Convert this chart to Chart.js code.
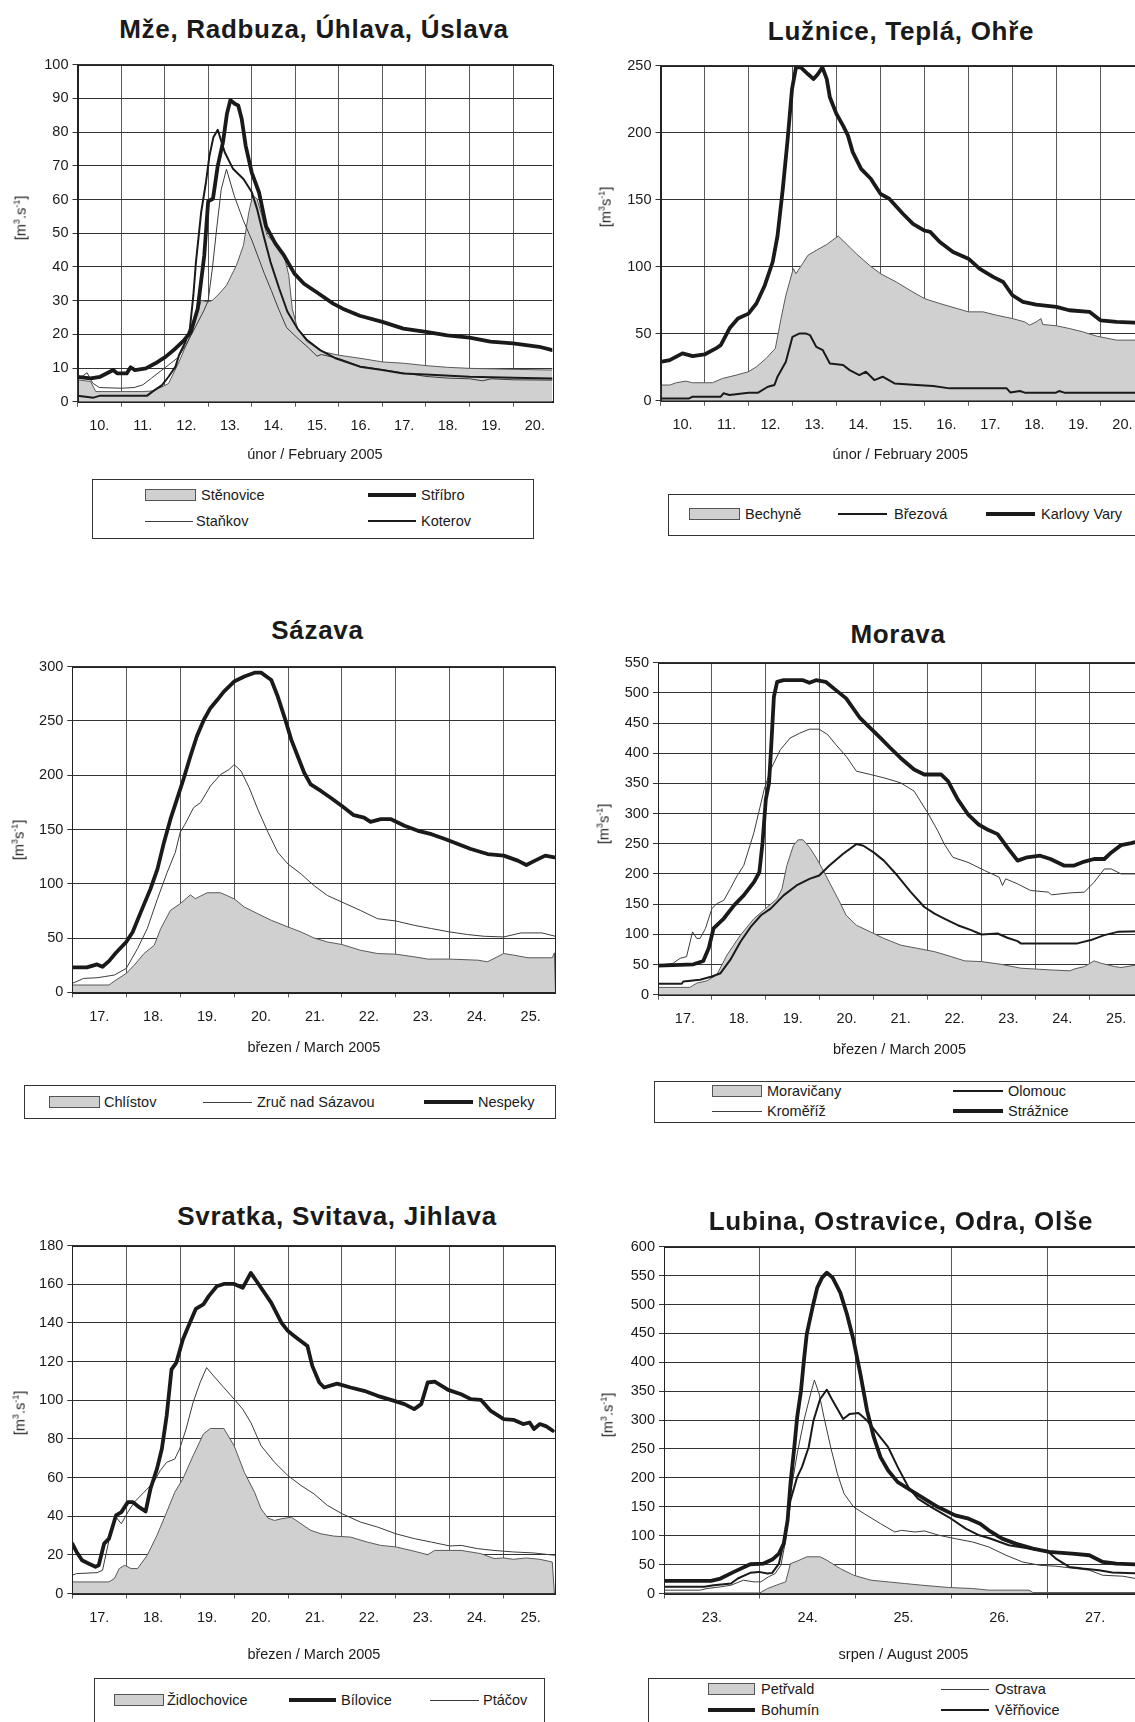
<!DOCTYPE html>
<html>
<head>
<meta charset="utf-8">
<script src="https://cdn.jsdelivr.net/npm/chart.js@4.4.1/dist/chart.umd.min.js"></script>
<style>
  html, body { margin: 0; padding: 0; overflow: hidden; background: #fff; }
  body { position: relative; width: 1135px; height: 1722px; font-family: "Liberation Sans", Arial, sans-serif; color: #1a1a1a; }
  canvas { position: absolute; }
  .title { position: absolute; font-weight: bold; font-size: 26px; letter-spacing: 0.7px; white-space: nowrap; transform: translate(-50%, -50%); }
  .ytitle { position: absolute; font-size: 14.5px; white-space: nowrap; transform: translate(-50%, -50%) rotate(-90deg); }
  .ytitle sup { font-size: 9px; }
  .legend { position: absolute; border: 1px solid #333; box-sizing: border-box; }
  .ltext { position: absolute; font-size: 14.5px; white-space: nowrap; transform: translateY(-50%); }
  .lline { position: absolute; }
  .lbox { position: absolute; background: #d0d0d0; border: 1px solid #555; box-sizing: border-box; }
</style>
</head>
<body>
<script>
/* ---------- DATA (day of month, discharge m3/s) ---------- */
const febDays = [10, 11, 12, 13, 14, 15, 16, 17, 18, 19, 20];
const marDays = [17, 18, 19, 20, 21, 22, 23, 24, 25];
const augDays = [23, 24, 25, 26, 27];

// Mže, Radbuza, Úhlava, Úslava
const stenovice = [[10.0,6.5],[10.3,6],[10.42,3],[11.0,3],[11.5,3],[11.72,3.2],[11.94,4.4],[12.09,5.4],[12.33,11.8],[12.56,18.8],[12.72,24.7],[12.84,30.1],[12.92,29.8],[13.0,29.6],[13.1,30.1],[13.25,32],[13.42,34.5],[13.65,40.5],[13.81,46.4],[13.93,56],[14.02,61.2],[14.12,60.2],[14.23,55.3],[14.35,49.4],[14.5,47.4],[14.74,43.4],[14.85,37.5],[14.93,27.6],[15.05,21.7],[15.27,17.8],[15.64,14.8],[16.0,13.8],[16.53,12.8],[17.0,11.8],[17.5,11.4],[18.0,10.7],[18.49,10.2],[19.0,9.9],[20.0,9.6],[20.9,9.4]];
const stribro = [[10.0,7.4],[10.3,6.9],[10.52,7.4],[10.82,9.4],[10.91,8.4],[11.13,8.4],[11.22,10.2],[11.32,9.4],[11.57,9.9],[11.79,11.4],[12.02,13.3],[12.25,15.8],[12.45,18.3],[12.6,20.7],[12.76,27.6],[12.91,43.4],[13.0,59.5],[13.11,60.2],[13.22,70],[13.34,77],[13.43,85.4],[13.51,89.5],[13.61,88.4],[13.69,87.9],[13.77,83.9],[13.86,76],[14.0,68],[14.17,62],[14.33,52],[14.54,47],[14.74,43.4],[14.98,38],[15.2,35],[15.5,32.4],[15.87,29.1],[16.09,27.6],[16.48,25.5],[17.0,23.7],[17.48,21.7],[18.0,20.7],[18.49,19.7],[19.0,19],[19.48,17.8],[20.0,17.3],[20.6,16.3],[20.9,15.3]];
const stankov = [[10.0,6.5],[10.22,8.6],[10.35,5.5],[10.5,4.2],[11.0,4.0],[11.3,4.2],[11.5,5],[11.7,7],[11.9,9],[12.1,11],[12.3,13],[12.5,17],[12.7,22],[12.9,27],[13.0,30],[13.1,40],[13.2,52],[13.3,63],[13.42,69],[13.6,61],[13.8,54],[14.0,48],[14.29,38],[14.45,33],[14.62,27.4],[14.8,22],[15.04,19],[15.3,16],[15.5,13.5],[15.6,14],[16.0,12.8],[16.5,10.5],[17.0,9.5],[17.5,8.5],[18.0,7.5],[18.5,7.0],[19.0,6.8],[19.3,6.2],[19.5,6.8],[20.0,6.5],[20.9,6.4]];
const koterov = [[10.0,1.8],[10.37,1.2],[10.52,1.8],[11.6,1.8],[11.72,3],[11.94,4.9],[12.09,7.4],[12.25,10.4],[12.33,13.8],[12.48,17.8],[12.58,21.7],[12.66,31.6],[12.72,41.5],[12.84,56.3],[12.95,65.2],[13.03,73],[13.12,78.5],[13.22,80.7],[13.38,74],[13.57,69.1],[13.81,66.1],[14.0,62.2],[14.12,57.3],[14.27,49.4],[14.43,41.5],[14.63,33.6],[14.82,26.7],[15.05,21.7],[15.27,18.3],[15.57,15.3],[15.94,12.8],[16.48,10.4],[17.0,9.4],[17.48,8.4],[18.0,8.1],[19.0,7.4],[20.0,7.1],[20.9,6.9]];

// Lužnice, Teplá, Ohře
const bechyne = [[10.0,11.7],[10.21,11.7],[10.36,13.4],[10.58,14.6],[10.73,13.4],[11.0,13.4],[11.18,13.4],[11.41,16.6],[11.72,19.1],[12.0,21.6],[12.18,25.3],[12.4,31.5],[12.61,39],[12.74,61.3],[12.85,78.7],[13.02,98.6],[13.08,94.8],[13.23,102.3],[13.35,108.5],[13.54,112.2],[13.77,116.4],[14.04,122.9],[14.22,117.2],[14.45,109.7],[14.75,101],[15.0,94.8],[15.36,88.6],[15.67,82.4],[16.0,76.2],[16.35,72.5],[17.0,66.3],[17.33,66.3],[17.64,63.8],[18.0,61.3],[18.28,58.8],[18.39,56.4],[18.54,58.8],[18.65,61.3],[18.69,56.9],[19.0,55.9],[19.29,53.9],[19.6,51.4],[19.91,48.2],[20.37,45.2],[20.95,45.2]];
const brezova = [[10.0,1.7],[10.65,1.7],[10.73,3],[11.37,3],[11.43,5.5],[11.57,4.2],[12.0,6],[12.22,6],[12.44,10.4],[12.59,11.7],[12.66,17.9],[12.85,29],[13.0,47.7],[13.15,50.1],[13.31,50.1],[13.4,48.9],[13.54,40.2],[13.69,37.7],[13.85,27.8],[14.15,26.6],[14.3,22.8],[14.52,19.1],[14.67,21.6],[14.86,15.4],[15.05,17.9],[15.32,12.9],[15.82,11.7],[16.2,10.9],[16.57,9.2],[17.87,9.2],[17.95,6.2],[18.17,7.2],[18.28,6],[18.99,6],[19.06,7.2],[19.18,6],[20.95,6]];
const karlovyVary = [[10.0,29],[10.21,30.3],[10.5,35.3],[10.73,33.3],[11.0,34.5],[11.26,39],[11.37,41.5],[11.57,54],[11.76,61.3],[12.0,65],[12.18,72.5],[12.37,86],[12.55,103.5],[12.66,123],[12.78,158],[12.89,195],[12.99,232.6],[13.08,248.8],[13.19,248.8],[13.35,243.8],[13.48,240],[13.58,243.8],[13.68,248.8],[13.78,240],[13.85,226.4],[14.0,214],[14.15,205.3],[14.26,198],[14.37,185.5],[14.56,173],[14.78,165.6],[15.0,154.4],[15.2,150.7],[15.51,139.5],[15.74,132],[16.0,127],[16.13,126],[16.35,118.4],[16.65,111],[17.0,106],[17.25,98.6],[17.56,92.4],[17.79,88.6],[18.0,78.7],[18.24,73.7],[18.54,71.7],[19.0,70],[19.29,67.5],[19.75,66.3],[20.0,60],[20.37,58.8],[20.95,58]];

// Sázava
const chlistov = [[17,6.7],[17.68,6.7],[17.81,11.3],[18,17.4],[18.15,25.1],[18.33,35.7],[18.52,43.4],[18.64,58.7],[18.82,75.5],[19.0,81.6],[19.19,89.8],[19.28,86.2],[19.34,87.7],[19.5,91.7],[19.75,91.7],[20.0,86.2],[20.19,78.5],[20.44,72.4],[20.69,66.3],[21.0,60.2],[21.24,55.6],[21.48,50.1],[21.73,46.4],[22.0,44],[22.34,38.8],[22.66,35.7],[23.0,35.1],[23.34,32.7],[23.59,30.6],[24.0,30.6],[24.52,29.6],[24.7,28.1],[24.88,32.7],[25.0,35.7],[25.19,34.2],[25.45,31.8],[25.9,31.8],[25.94,36.4],[25.96,0]];
const zruc = [[17,8.2],[17.21,12.8],[17.46,13.4],[17.59,14.4],[17.78,15.9],[18,22],[18.21,40.3],[18.39,58.7],[18.58,86.2],[18.76,110.6],[18.91,128.9],[19.0,147.3],[19.09,154.9],[19.25,170.2],[19.38,174.8],[19.56,190],[19.75,200.7],[19.91,205.3],[20,209.9],[20.13,203.8],[20.28,188.5],[20.44,168.6],[20.63,147.3],[20.81,128.9],[21.0,118.2],[21.24,109.1],[21.48,98.4],[21.73,89.2],[22.0,83.1],[22.34,75.5],[22.66,67.8],[23.0,65.7],[23.34,61.7],[23.66,58.7],[24.0,55.6],[24.33,53.2],[24.64,51.6],[25.0,51],[25.32,54.7],[25.71,54.7],[25.96,51.6]];
const nespeky = [[17.0,22.9],[17.27,22.9],[17.46,25.7],[17.56,23.5],[17.68,28.7],[17.81,36.4],[18.0,46.4],[18.12,55.6],[18.27,73.9],[18.45,95.3],[18.58,113.7],[18.7,138.1],[18.82,159.5],[18.94,177.8],[19.06,196.1],[19.19,217.5],[19.31,235.9],[19.44,251.1],[19.56,261.8],[19.69,269.5],[19.81,277.1],[20.0,286.3],[20.19,290.9],[20.38,294.5],[20.5,294.5],[20.69,287.8],[20.81,272.5],[20.94,252.7],[21.06,232.8],[21.18,217.5],[21.3,202.3],[21.42,191.6],[21.61,185.5],[21.79,179.3],[22.0,171.7],[22.22,163.2],[22.41,161],[22.53,157],[22.72,159.5],[22.91,159.5],[23.16,153.4],[23.41,148.8],[23.66,145.7],[23.91,141.2],[24.15,136.6],[24.39,132],[24.7,127.4],[25.0,125.9],[25.26,121.3],[25.42,117.3],[25.58,121.3],[25.77,125.9],[25.94,124.4]];

// Morava
const moravicany = [[17,12.1],[17.59,12.1],[17.72,19.2],[17.91,23],[18.09,32.9],[18.28,65.8],[18.53,98.7],[18.78,126.1],[19.03,145.3],[19.21,159],[19.3,175.5],[19.39,213.9],[19.51,246.8],[19.6,256.6],[19.69,256.6],[19.81,244.1],[19.93,227.6],[20.05,208.4],[20.21,181],[20.37,153.6],[20.49,131.6],[20.68,115.1],[20.94,104.1],[21.19,93.2],[21.5,82.2],[21.81,76.8],[22.13,71.3],[22.44,63.1],[22.69,56],[23,54.8],[23.36,50.4],[23.73,43.9],[24.27,41.1],[24.64,39.5],[24.73,42.8],[24.91,46.6],[25.09,56],[25.22,52.1],[25.47,46.6],[25.59,45],[25.95,50.4]];
const kromeriz = [[17,48.3],[17.28,52],[17.41,60.3],[17.53,63],[17.64,104.1],[17.72,93.2],[17.78,93.2],[17.88,109.7],[18,142.6],[18.09,150.8],[18.22,156.3],[18.34,175.5],[18.47,197.4],[18.59,213.9],[18.78,268.7],[18.97,340],[19.09,373],[19.27,405.9],[19.45,425.1],[19.63,433.3],[19.81,439.9],[19.99,439.9],[20.15,430.6],[20.3,414.2],[20.49,395],[20.68,370.3],[20.94,364.8],[21.19,359.3],[21.5,351],[21.75,337.3],[22,301.7],[22.19,271.5],[22.31,249.5],[22.47,227.6],[22.75,219.3],[23.06,205.6],[23.33,194.6],[23.39,180.9],[23.45,191.9],[23.67,183.6],[23.91,172.7],[24.24,169.9],[24.3,165.5],[24.66,168.8],[24.91,169.9],[25.09,186.4],[25.28,208.3],[25.41,208.3],[25.59,200.1],[25.95,200.1]];
const olomouc = [[17,18.1],[17.44,18.1],[17.47,21.9],[17.78,24.7],[18,30.2],[18.16,35.6],[18.34,57.6],[18.53,87.7],[18.72,112.4],[18.91,131.6],[19.09,142.6],[19.33,164.5],[19.57,181],[19.81,191.9],[19.99,197.4],[20.18,213.9],[20.43,233.1],[20.68,249.5],[20.81,246.8],[21,235.8],[21.19,222.1],[21.44,197.4],[21.69,170],[21.94,145.3],[22.13,134.3],[22.31,126.1],[22.56,115.1],[22.81,106.9],[23,99.8],[23.3,101.4],[23.48,94.3],[23.67,88.8],[23.73,85],[23.97,85],[24.78,85],[25.03,90.5],[25.28,98.7],[25.53,104.1],[25.95,105.3]];
const straznice = [[17,48.3],[17.41,49.4],[17.66,50.4],[17.84,55.9],[17.94,76.8],[18.03,109.7],[18.22,126.2],[18.41,148.1],[18.59,164.5],[18.78,186.5],[18.88,202.9],[18.94,252.3],[19.0,323.6],[19.06,351],[19.1,411.3],[19.15,493.6],[19.21,518.3],[19.33,521],[19.69,521],[19.81,516.6],[19.93,521],[20.11,518.3],[20.3,504.6],[20.49,490.9],[20.75,458],[20.94,441.6],[21.13,425.1],[21.31,408.7],[21.5,392.2],[21.75,373],[21.94,364.8],[22.25,364.8],[22.38,353.7],[22.56,323.6],[22.75,298.9],[22.94,282.4],[23.12,273.1],[23.3,266],[23.48,244.1],[23.67,222.1],[23.85,227.6],[24.09,230.3],[24.28,224.8],[24.53,213.9],[24.72,213.9],[24.91,220.5],[25.09,224.8],[25.28,224.8],[25.41,235.7],[25.59,247.8],[25.78,251.1],[25.95,255]];

// Svratka, Svitava, Jihlava
const zidlochovice = [[17,6],[17.68,6],[17.78,7.7],[17.87,12.9],[17.97,14.6],[18.09,12.9],[18.21,12.9],[18.39,19.8],[18.57,30.1],[18.75,42.1],[18.9,52.4],[19.05,59.3],[19.24,71.3],[19.43,82.5],[19.56,85.4],[19.81,85.4],[20,76.5],[20.19,62.7],[20.38,52.4],[20.5,43.8],[20.63,39],[20.75,37.8],[20.88,38.7],[21.06,39.5],[21.24,36.1],[21.42,32.7],[21.61,30.9],[21.85,29.7],[22.16,29.2],[22.47,26.6],[22.72,24.9],[23,24.1],[23.28,22.3],[23.59,20.1],[23.72,22.3],[24.21,22.3],[24.58,20.6],[24.82,18.1],[25,18.4],[25.18,17.7],[25.42,18.4],[25.67,17.7],[25.9,16.3],[25.94,0]];
const bilovice = [[17,25.8],[17.08,21.5],[17.18,17.2],[17.3,15.5],[17.43,13.8],[17.49,14.6],[17.59,25.8],[17.68,28.4],[17.81,40.4],[17.91,42.1],[18.03,47.3],[18.12,47.3],[18.24,44.7],[18.36,42.5],[18.45,54.2],[18.57,64.5],[18.66,74.8],[18.75,92],[18.84,116],[18.93,119.5],[19.05,131.5],[19.18,140.1],[19.29,147.3],[19.43,149.6],[19.53,153.9],[19.68,159],[19.81,160.2],[20,160.2],[20.16,158.2],[20.31,165.9],[20.44,160.7],[20.69,150.4],[20.88,140.1],[21,135.8],[21.12,133.2],[21.36,128.1],[21.45,117.8],[21.58,109.2],[21.67,106.6],[21.91,108.6],[22.16,106.6],[22.41,104.9],[22.66,102.3],[22.97,99.7],[23.16,98],[23.34,95.4],[23.47,98],[23.59,109.2],[23.72,109.7],[23.97,105.4],[24.21,103.1],[24.39,100.6],[24.58,100.2],[24.76,94.5],[25,90.3],[25.18,89.9],[25.36,87.7],[25.48,88.5],[25.56,85.1],[25.67,87.7],[25.79,86.5],[25.91,84.2]];
const ptacov = [[17,9.5],[17.08,10.3],[17.46,10.8],[17.56,12],[17.68,27.5],[17.81,39.5],[17.91,36.1],[18.03,42.1],[18.15,47.3],[18.33,52.4],[18.51,57.6],[18.63,63.6],[18.75,67.9],[18.9,69.6],[18.99,74.8],[19.11,85.1],[19.24,98.9],[19.37,109.2],[19.49,116.9],[19.62,112.6],[19.81,106.6],[20,100.6],[20.16,95.4],[20.31,88.5],[20.5,76.5],[20.75,67.9],[21,61],[21.24,55.9],[21.48,51.6],[21.73,45.6],[22,41.3],[22.34,37],[22.66,34.4],[23,30.9],[23.34,28.4],[23.66,26.6],[24,24.6],[24.21,24.9],[24.52,23.2],[24.82,22.3],[25.18,21.5],[25.55,21],[25.94,19.8]];

// Lubina, Ostravice, Odra, Olše
const petrvald = [[23,1],[24.0,1],[24.08,8.6],[24.22,17.3],[24.27,20],[24.32,51.8],[24.39,56],[24.49,63.5],[24.63,63.5],[24.7,57.5],[24.84,43.1],[24.98,31.6],[25.16,23],[25.34,20.1],[25.51,17.3],[25.69,14.4],[25.97,10.4],[26.22,8.6],[26.39,5.8],[26.81,5.8],[26.85,1.7],[27.98,1.7]];
const ostrava = [[23,5.8],[23.38,5.8],[23.45,8.6],[23.59,11.5],[23.7,14.4],[23.83,23],[23.94,20.1],[24.01,20.1],[24.09,28.8],[24.16,34.5],[24.22,48.9],[24.27,92],[24.32,172.6],[24.39,241.6],[24.46,299.1],[24.53,345.2],[24.57,369.3],[24.62,345.2],[24.67,304.9],[24.74,253.1],[24.81,207.1],[24.88,172.6],[24.98,149.6],[25.09,138.1],[25.26,120.8],[25.41,106.4],[25.48,109.3],[25.62,106.4],[25.72,108.2],[25.87,100.7],[26.04,94.9],[26.22,89.2],[26.39,80.5],[26.57,66.2],[26.74,54.7],[26.92,48.9],[27.09,47.2],[27.3,43.1],[27.44,40.3],[27.58,31.6],[27.79,29.9],[27.98,24.2]];
const bohumin = [[23,21.9],[23.49,21.9],[23.59,25.9],[23.73,37.4],[23.9,50.6],[24.04,51.8],[24.13,58.7],[24.2,69],[24.25,86.3],[24.29,126.6],[24.32,189.8],[24.36,253.1],[24.39,304.9],[24.43,350.9],[24.46,402.7],[24.49,448.7],[24.55,494.7],[24.6,529.3],[24.65,546.5],[24.7,555.1],[24.76,546.5],[24.84,520.6],[24.91,483.2],[24.98,437.2],[25.05,379.7],[25.12,316.4],[25.19,270.4],[25.26,235.9],[25.34,212.9],[25.44,192.7],[25.55,181.2],[25.69,166.8],[25.86,149.6],[26.04,135.2],[26.18,129.4],[26.3,120.8],[26.39,109.3],[26.53,94.9],[26.67,86.3],[26.85,77.7],[27.02,71.9],[27.12,70.8],[27.26,69],[27.44,66.2],[27.58,54.6],[27.72,51.8],[27.98,50]];
const verinovice = [[23,11.5],[23.42,11.5],[23.52,14.4],[23.7,17.3],[23.77,25.9],[23.9,35.7],[23.99,37.4],[24.08,34.5],[24.13,35.7],[24.2,51.8],[24.27,103.5],[24.32,161.1],[24.39,201.3],[24.44,218.6],[24.51,253.1],[24.56,299.1],[24.63,336.5],[24.7,352.6],[24.76,333.7],[24.87,302],[24.94,310.7],[25.03,312.4],[25.12,299.1],[25.23,276.1],[25.34,253.1],[25.44,218.6],[25.55,184.1],[25.65,164],[25.79,149.6],[25.97,132.3],[26.15,112.2],[26.29,100.7],[26.39,96.1],[26.6,83.4],[26.81,77.7],[27,73.6],[27.09,60.4],[27.23,46],[27.37,43.1],[27.54,40.3],[27.68,36.2],[27.98,34.5]];

/* ---------- STYLES ---------- */
const LINE = {
  thick: { w: 3.8, c: '#1a1a1a' },
  mid:   { w: 2,   c: '#1a1a1a' },
  thin:  { w: 1,   c: '#3c3c3c' },
};
const FONT = '"Liberation Sans", Arial, sans-serif';
Chart.defaults.font.family = FONT;
Chart.defaults.font.size = 14.5;
Chart.defaults.color = '#1a1a1a';

function line(data, kind, order) {
  return {
    data: data.map(p => ({ x: p[0], y: p[1] })),
    borderColor: LINE[kind].c, borderWidth: LINE[kind].w,
    pointRadius: 0, fill: false, tension: 0, order,
    borderJoinStyle: 'round', borderCapStyle: 'round'
  };
}
function area(data) {
  return {
    data: data.map(p => ({ x: p[0], y: p[1] })),
    borderColor: '#5a5a5a', borderWidth: 1, backgroundColor: '#d0d0d0',
    pointRadius: 0, fill: 'origin', tension: 0, order: 9
  };
}

// plot-area frame drawn over the series
const frame = {
  id: 'frame',
  afterDatasetsDraw(chart) {
    const { ctx, chartArea: a } = chart;
    ctx.save();
    ctx.strokeStyle = '#222';
    ctx.lineWidth = 1;
    ctx.strokeRect(Math.round(a.left) + 0.5, Math.round(a.top) + 0.5,
      Math.round(a.right - a.left), Math.round(a.bottom - a.top));
    ctx.restore();
  }
};

/* ---------- PANELS ---------- */
const panels = [
  { title: 'Mže, Radbuza, Úhlava, Úslava', tx: 314, ty: 29,
    L: 77.5, T: 64, R: 552.3, B: 401.7, xmin: 10, xmax: 20.9, ymax: 100, step: 10, days: febDays,
    xTitle: 'únor / February 2005', xOff: 53.5,
    yTitle: '[m<sup>3</sup>.s<sup>-1</sup>]', yx: 20, yy: 218,
    sets: [area(stenovice), line(stankov, 'thin', 3), line(koterov, 'mid', 2), line(stribro, 'thick', 1)] },
  { title: 'Lužnice, Teplá, Ohře', tx: 901, ty: 31,
    L: 660.5, T: 65, R: 1140, B: 400.7, xmin: 10, xmax: 20.9, ymax: 250, step: 50, days: febDays,
    xTitle: 'únor / February 2005', xOff: 54.3,
    yTitle: '[m<sup>3</sup>s<sup>-1</sup>]', yx: 605, yy: 207,
    sets: [area(bechyne), line(brezova, 'mid', 2), line(karlovyVary, 'thick', 1)] },
  { title: 'Sázava', tx: 317.5, ty: 630,
    L: 72.3, T: 665.5, R: 555.5, B: 992.3, xmin: 17, xmax: 25.96, ymax: 300, step: 50, days: marDays,
    xTitle: 'březen / March 2005', xOff: 55.7,
    yTitle: '[m<sup>3</sup>s<sup>-1</sup>]', yx: 18, yy: 840,
    sets: [area(chlistov), line(zruc, 'thin', 2), line(nespeky, 'thick', 1)] },
  { title: 'Morava', tx: 898, ty: 634,
    L: 658, T: 661.5, R: 1141, B: 994.7, xmin: 17, xmax: 25.96, ymax: 550, step: 50, days: marDays,
    xTitle: 'březen / March 2005', xOff: 55.5,
    yTitle: '[m<sup>3</sup>s<sup>-1</sup>]', yx: 603, yy: 824,
    sets: [area(moravicany), line(kromeriz, 'thin', 3), line(olomouc, 'mid', 2), line(straznice, 'thick', 1)] },
  { title: 'Svratka, Svitava, Jihlava', tx: 337, ty: 1216,
    L: 72.3, T: 1244.5, R: 555.5, B: 1593.5, xmin: 17, xmax: 25.96, ymax: 180, step: 20, days: marDays,
    xTitle: 'březen / March 2005', xOff: 62,
    yTitle: '[m<sup>3</sup>.s<sup>-1</sup>]', yx: 19, yy: 1413,
    sets: [area(zidlochovice), line(ptacov, 'thin', 3), line(bilovice, 'thick', 1)] },
  { title: 'Lubina, Ostravice, Odra, Olše', tx: 901, ty: 1221,
    L: 664, T: 1246, R: 1143, B: 1593.5, xmin: 23, xmax: 28, ymax: 600, step: 50, days: augDays,
    xTitle: 'srpen / August 2005', xOff: 62,
    yTitle: '[m<sup>3</sup>.s<sup>-1</sup>]', yx: 607, yy: 1415,
    sets: [area(petrvald), line(ostrava, 'thin', 3), line(verinovice, 'mid', 2), line(bohumin, 'thick', 1)] },
];

function addDiv(cls, html, css) {
  const d = document.createElement('div');
  d.className = cls;
  d.innerHTML = html;
  Object.assign(d.style, css);
  document.body.appendChild(d);
  return d;
}

function makeChart(p) {
  const wy = 50;
  const cl = Math.round(p.L - wy);
  const ct = Math.round(p.T - 12);
  const padTop = p.T - ct;
  const hx = p.xOff + 10.4;
  const w = Math.ceil(p.R + 20 - cl);
  const h = Math.ceil(padTop + (p.B - p.T) + hx + 4);
  const cv = document.createElement('canvas');
  cv.width = w; cv.height = h;
  cv.style.left = cl + 'px'; cv.style.top = ct + 'px';
  cv.style.width = w + 'px'; cv.style.height = h + 'px';
  document.body.appendChild(cv);
  const dayW = (p.R - p.L) / (p.xmax - p.xmin);
  new Chart(cv, {
    type: 'line',
    data: { datasets: p.sets },
    options: {
      responsive: false, animation: false, devicePixelRatio: 1,
      layout: { padding: { left: 0, top: padTop, right: w - (p.R - cl), bottom: h - padTop - (p.B - p.T) - hx } },
      plugins: { legend: { display: false }, tooltip: { enabled: false } },
      scales: {
        x: {
          type: 'linear', min: p.xmin, max: p.xmax,
          afterBuildTicks: s => { s.ticks = p.days.map(v => ({ value: v })); },
          afterFit: s => { s.height = hx; },
          ticks: { callback: v => v + '.', labelOffset: dayW / 2, maxRotation: 0, autoSkip: false, padding: 11 },
          grid: { color: '#5a5a5a', lineWidth: 1, tickLength: 5 },
          border: { color: '#222' },
          title: { display: true, text: p.xTitle, padding: { top: 2, bottom: 2 } }
        },
        y: {
          type: 'linear', min: 0, max: p.ymax,
          afterFit: s => { s.width = p.L - cl; },
          ticks: { stepSize: p.step, padding: 4 },
          grid: { color: '#333', lineWidth: 1, tickLength: 5 },
          border: { color: '#222' }
        }
      }
    },
    plugins: [frame]
  });
  addDiv('title', p.title, { left: p.tx + 'px', top: p.ty + 'px' });
  addDiv('ytitle', p.yTitle, { left: p.yx + 'px', top: p.yy + 'px' });
}

panels.forEach(makeChart);

/* ---------- LEGENDS ---------- */
const legends = [
  { box: [92, 479, 442, 60], items: [
    ['area', 145, 196, 201, 495, 'Stěnovice'], ['thick', 368, 416, 421, 495, 'Stříbro'],
    ['thin', 145, 193, 196, 521, 'Staňkov'], ['mid', 368, 416, 421, 521, 'Koterov'] ] },
  { box: [668, 494, 520, 42], items: [
    ['area', 689, 740, 745, 514, 'Bechyně'], ['mid', 838, 887, 894, 514, 'Březová'],
    ['thick', 986, 1035, 1041, 514, 'Karlovy Vary'] ] },
  { box: [24, 1085, 532, 34], items: [
    ['area', 49, 100, 104, 1102, 'Chlístov'], ['thin', 203, 252, 257, 1102, 'Zruč nad Sázavou'],
    ['thick', 424, 473, 478, 1102, 'Nespeky'] ] },
  { box: [654, 1081, 520, 42], items: [
    ['area', 712, 762, 767, 1091, 'Moravičany'], ['mid', 953, 1003, 1008, 1091, 'Olomouc'],
    ['thin', 712, 762, 767, 1111, 'Kroměříž'], ['thick', 953, 1003, 1008, 1111, 'Strážnice'] ] },
  { box: [94, 1678, 451, 60], items: [
    ['area', 114, 164, 167, 1700, 'Židlochovice'], ['thick', 289, 336, 341, 1700, 'Bílovice'],
    ['thin', 430, 479, 483, 1700, 'Ptáčov'] ] },
  { box: [648, 1678, 520, 60], items: [
    ['area', 708, 755, 761, 1689, 'Petřvald'], ['thin', 941, 989, 995, 1689, 'Ostrava'],
    ['thick', 708, 755, 761, 1710, 'Bohumín'], ['mid', 941, 989, 995, 1710, 'Věřňovice'] ] },
];

legends.forEach(lg => {
  const [bx, by, bw, bh] = lg.box;
  addDiv('legend', '', { left: bx + 'px', top: by + 'px', width: bw + 'px', height: bh + 'px' });
  lg.items.forEach(([kind, x1, x2, tx, y, label]) => {
    if (kind === 'area') {
      addDiv('lbox', '', { left: x1 + 'px', top: (y - 6) + 'px', width: (x2 - x1) + 'px', height: '12px' });
    } else {
      const s = LINE[kind];
      const lw = kind === 'thick' ? 4.5 : s.w;
      addDiv('lline', '', { left: x1 + 'px', top: (y - lw / 2) + 'px', width: (x2 - x1) + 'px', height: lw + 'px', background: s.c });
    }
    addDiv('ltext', label, { left: tx + 'px', top: y + 'px' });
  });
});
</script>
</body>
</html>
